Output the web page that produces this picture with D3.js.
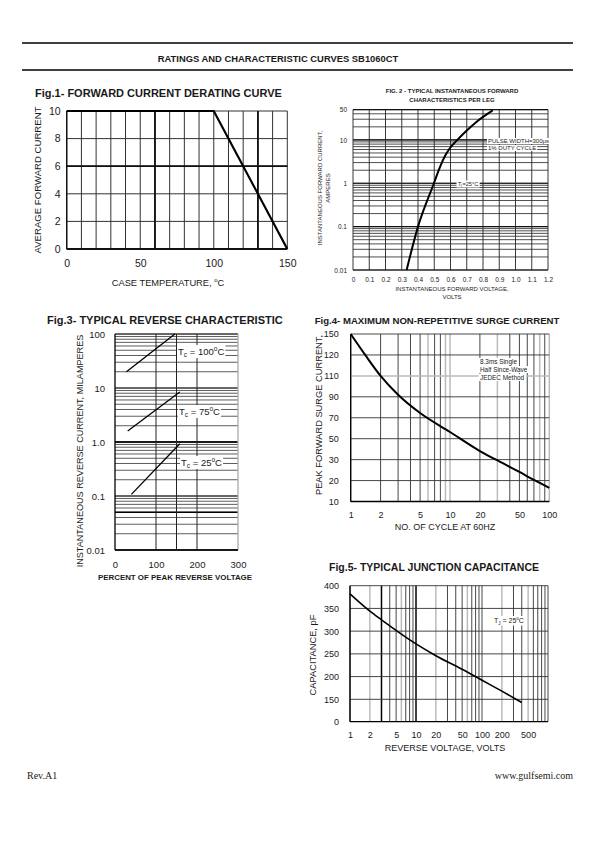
<!DOCTYPE html>
<html><head><meta charset="utf-8">
<script src="https://cdn.jsdelivr.net/npm/d3@7"></script>
<style>
body{margin:0;background:#fff}
svg text{font-family:"Liberation Sans",Arial,sans-serif;fill:#1a1a1a}
</style>
</head><body><script>
// ================= DATA =================
const headerTitle = "RATINGS AND CHARACTERISTIC CURVES SB1060CT";
const footerLeft = "Rev.A1";
const footerRight = "www.gulfsemi.com";

// Fig.1
const fig1Temp = [0, 100, 150];
const fig1Current = [10, 10, 0];
const fig1XTicks = [0, 50, 100, 150];
const fig1YTicks = [0, 2, 4, 6, 8, 10];
const fig1HeavyX = [60, 130];
const fig1HeavyY = [0, 6];

// Fig.2
const fig2Voltage = [0.33, 0.40, 0.498, 0.535, 0.566, 0.597, 0.638, 0.70, 0.761, 0.86];
const fig2Current = [0.01, 0.1, 1, 2.37, 4.24, 6.5, 9.6, 16.4, 26.3, 48];
const fig2XTicks = [0, 0.1, 0.2, 0.3, 0.4, 0.5, 0.6, 0.7, 0.8, 0.9, 1.0, 1.1, 1.2];
const fig2YTicks = [0.01, 0.1, 1, 10, 50];

// Fig.3
const fig3Series = [
  {label: "100", percent: [28, 146], current: [20, 100]},
  {label: "75",  percent: [31, 158], current: [1.6, 8.4]},
  {label: "25",  percent: [40, 158], current: [0.107, 0.93]}
];
const fig3XTicks = [0, 100, 200, 300];
const fig3YTicks = [0.01, 0.1, 1, 10, 100];
const fig3VGrid = [100, 150, 200];
const fig3HeavyY = [1, 0.05];

// Fig.4
const fig4Cycles = [1, 1.4, 2, 3, 5, 10, 20, 32, 50, 70, 100];
const fig4Current = [150, 120, 110, 92, 74.5, 56.4, 38.2, 28.9, 24.1, 20.3, 16.5];
const fig4XTicks = [1, 2, 5, 10, 20, 50, 100];
const fig4YTicks = [10, 20, 30, 50, 70, 90, 110, 120, 150];
const fig4LightX = [6, 9, 10, 30, 80, 100];
const fig4Note = ["8.3ms Single", "Half Since-Wave", "JEDEC Method"];

// Fig.5
const fig5Voltage = [1, 2, 3, 10, 20, 50, 100, 200, 400];
const fig5Cap = [382, 344, 325, 272, 246, 216, 192, 168, 129];
const fig5XTicks = [1, 2, 5, 10, 20, 50, 100, 200, 500];
const fig5YTicks = [0, 150, 200, 250, 300, 350, 400];
const fig5HeavyX = [3, 10];
const fig5LightX = [2, 6, 20, 60, 200, 500];

// ================= DRAW =================
const svg = d3.select("body").append("svg").attr("width", 595).attr("height", 842);
const F = '"Liberation Sans",Arial,sans-serif';

function hl(g, vals, y, x0, x1, stroke, w) {
  g.selectAll(null).data(vals).join("line")
    .attr("x1", x0).attr("x2", x1).attr("y1", d => y(d)).attr("y2", d => y(d))
    .attr("stroke", stroke).attr("stroke-width", w);
}
function vl(g, vals, x, y0, y1, stroke, w) {
  g.selectAll(null).data(vals).join("line")
    .attr("y1", y0).attr("y2", y1).attr("x1", d => x(d)).attr("x2", d => x(d))
    .attr("stroke", stroke).attr("stroke-width", w);
}
function styleAxis(g, size, weight) {
  g.select(".domain").remove();
  g.selectAll("line").remove();
  g.selectAll("text").attr("font-size", size).attr("font-family", F)
    .attr("fill", "#1a1a1a").attr("font-weight", weight || "normal");
}
function txt(x, y, s, size, opts = {}) {
  return svg.append("text").attr("x", x).attr("y", y).text(s)
    .attr("font-size", size).attr("text-anchor", opts.anchor || "middle")
    .attr("font-weight", opts.bold ? "bold" : "normal");
}
function rtxt(x, y, s, size) {
  return svg.append("text").attr("transform", `translate(${x},${y}) rotate(-90)`)
    .attr("text-anchor", "middle").attr("font-size", size).text(s);
}
function whiteBg(sel, pad) {
  const b = sel.node().getBBox();
  svg.insert("rect", () => sel.node())
    .attr("x", b.x - pad).attr("y", b.y).attr("width", b.width + 2 * pad).attr("height", b.height)
    .attr("fill", "#fff");
}

// ---- header / footer ----
svg.append("line").attr("x1", 22).attr("x2", 573).attr("y1", 43).attr("y2", 43).attr("stroke", "#000").attr("stroke-width", 1.3);
svg.append("line").attr("x1", 22).attr("x2", 573).attr("y1", 70).attr("y2", 70).attr("stroke", "#000").attr("stroke-width", 1.3);
txt(278, 61.5, headerTitle, 9.4, {bold: true});
txt(27, 779, footerLeft, 10, {anchor: "start"}).style("font-family", '"Liberation Serif",serif');
txt(573, 779, footerRight, 10, {anchor: "end"}).style("font-family", '"Liberation Serif",serif');

// ================= Fig.1 =================
{
  const x = d3.scaleLinear().domain([0, 150]).range([66.7, 287.3]);
  const y = d3.scaleLinear().domain([0, 10]).range([249, 111]);
  const g = svg.append("g");
  vl(g, d3.range(0, 151, 10), x, y(10), y(0), "#333", 1);
  hl(g, fig1YTicks, y, x(0), x(150), "#333", 1);
  vl(g, fig1HeavyX, x, y(10), y(0), "#111", 1.8);
  hl(g, fig1HeavyY, y, x(0), x(150), "#111", 1.8);
  vl(g, [0], x, y(10), y(0), "#111", 1.4);
  g.append("path").datum(fig1Temp.map((t, i) => [t, fig1Current[i]]))
    .attr("d", d3.line().x(d => x(d[0])).y(d => y(d[1])))
    .attr("fill", "none").attr("stroke", "#000").attr("stroke-width", 2.2);
  const ax = svg.append("g").attr("transform", `translate(0,${y(0) + 8})`)
    .call(d3.axisBottom(x).tickValues(fig1XTicks).tickSize(0).tickFormat(d3.format("d")));
  styleAxis(ax, 10.5);
  const ay = svg.append("g").attr("transform", `translate(${x(0) - 3},0)`)
    .call(d3.axisLeft(y).tickValues(fig1YTicks).tickSize(0).tickFormat(d3.format("d")));
  styleAxis(ay, 10.5);
  txt(35, 97, "Fig.1- FORWARD CURRENT DERATING CURVE", 11, {anchor: "start", bold: true});
  const xt = txt(168, 286, "CASE TEMPERATURE, ", 9.3);
  xt.append("tspan").text("o").attr("font-size", 6).attr("dy", -4);
  xt.append("tspan").text("C").attr("dy", 4);
  rtxt(41, 180, "AVERAGE FORWARD CURRENT", 9.6);
}

// ================= Fig.2 =================
{
  const x = d3.scaleLinear().domain([0, 1.2]).range([353, 548]);
  const y = d3.scaleLog().domain([0.01, 50]).range([270, 109.6]);
  const g = svg.append("g");
  hl(g, y.ticks(), y, x(0), x(1.2), "#222", 0.8);
  hl(g, [0.01, 0.1, 1, 10, 50], y, x(0), x(1.2), "#111", 1.1);
  vl(g, fig2XTicks, x, y(50), y(0.01), "#222", 0.9);
  g.append("path").datum(fig2Voltage.map((v, i) => [v, fig2Current[i]]))
    .attr("d", d3.line().x(d => x(d[0])).y(d => y(d[1])).curve(d3.curveMonotoneX))
    .attr("fill", "none").attr("stroke", "#000").attr("stroke-width", 2);
  const ax = svg.append("g").attr("transform", `translate(0,${y(0.01) + 4})`)
    .call(d3.axisBottom(x).tickValues(fig2XTicks).tickSize(0).tickFormat(d => d === 0 ? "0" : d3.format(".1f")(d)));
  styleAxis(ax, 6.5);
  const ay = svg.append("g").attr("transform", `translate(${x(0) - 3},0)`)
    .call(d3.axisLeft(y).tickValues(fig2YTicks).tickSize(0).tickFormat(d => String(d)));
  styleAxis(ay, 6.5);
  txt(452, 93, "FIG. 2 - TYPICAL INSTANTANEOUS FORWARD", 6, {bold: true});
  txt(452, 102, "CHARACTERISTICS PER LEG", 6, {bold: true});
  txt(452, 291, "INSTANTANEOUS FORWARD VOLTAGE,", 6);
  txt(452, 299, "VOLTS", 6);
  rtxt(322, 188, "INSTANTANEOUS FORWARD CURRENT,", 6);
  rtxt(330, 188, "AMPERES", 6);
  const n1 = txt(488, 143, "PULSE WIDTH=300\u03bcs", 6, {anchor: "start"}); whiteBg(n1, 1);
  const n2 = txt(488, 150, "1% DUTY CYCLE", 6, {anchor: "start"}); whiteBg(n2, 1);
  const n3 = txt(458, 185.5, "T\u2C7C=25\u00b0C", 5.6, {anchor: "start"}); whiteBg(n3, 1.5);
}

// ================= Fig.3 =================
{
  const x = d3.scaleLinear().domain([0, 300]).range([115, 238]);
  const y = d3.scaleLog().domain([0.01, 100]).range([550, 334]);
  const g = svg.append("g");
  hl(g, y.ticks(), y, x(0), x(300), "#333", 0.8);
  hl(g, fig3YTicks, y, x(0), x(300), "#222", 1);
  hl(g, fig3HeavyY, y, x(0), x(300), "#000", 1.6);
  vl(g, fig3VGrid, x, y(100), y(0.01), "#222", 1);
  vl(g, [0], x, y(100), y(0.01), "#000", 1.3);
  vl(g, [300], x, y(100), y(0.01), "#aaa", 1.3);
  hl(g, [0.01], y, x(0), x(300), "#000", 1.6);
  fig3Series.forEach(s => {
    g.append("path").datum(s.percent.map((p, i) => [p, s.current[i]]))
      .attr("d", d3.line().x(d => x(d[0])).y(d => y(d[1])))
      .attr("stroke", "#000").attr("stroke-width", 1.3).attr("fill", "none");
  });
  const ax = svg.append("g").attr("transform", `translate(0,${y(0.01) + 8})`)
    .call(d3.axisBottom(x).tickValues(fig3XTicks).tickSize(0).tickFormat(d3.format("d")));
  styleAxis(ax, 9.5);
  ax.selectAll("text").attr("fill", "#333");
  const ay = svg.append("g").attr("transform", `translate(${x(0) - 7},0)`)
    .call(d3.axisLeft(y).tickValues(fig3YTicks).tickSize(0).tickFormat(d => d === 1 ? "1.0" : String(d)));
  styleAxis(ay, 9.5);
  ay.selectAll("text").attr("fill", "#333");
  const labY = [355, 415, 466];
  const labX = [178, 179, 181];
  fig3Series.forEach((s, i) => {
    const t = txt(labX[i], labY[i], "T", 9.5, {anchor: "start"});
    t.append("tspan").text("c").attr("font-size", 6.5).attr("dy", 2);
    t.append("tspan").text(" = " + s.label).attr("dy", -2);
    t.append("tspan").text("o").attr("font-size", 6.5).attr("dy", -4);
    t.append("tspan").text("C").attr("dy", 4);
    whiteBg(t, 1);
  });
  txt(47, 324, "Fig.3- TYPICAL  REVERSE CHARACTERISTIC", 11, {anchor: "start", bold: true});
  txt(175, 580, "PERCENT OF PEAK REVERSE VOLTAGE", 7.9, {bold: true});
  rtxt(83, 451, "INSTANTANEOUS REVERSE CURRENT, MILAMPERES", 9.1);
}

// ================= Fig.4 =================
{
  const x = d3.scaleLog().domain([1, 100]).range([350.7, 549.3]);
  const y = d3.scaleLinear().domain(fig4YTicks)
    .range(fig4YTicks.map((d, i) => 501.5 - i * (501.5 - 334) / (fig4YTicks.length - 1)));
  const g = svg.append("g");
  const light = new Set(fig4LightX);
  vl(g, x.ticks().filter(d => !light.has(d)), x, y(150), y(10), "#333", 0.9);
  vl(g, fig4LightX, x, y(150), y(10), "#bbb", 1.5);
  hl(g, fig4YTicks.filter(d => d !== 110), y, x(1), x(100), "#333", 0.9);
  hl(g, [110], y, x(1), x(100), "#bbb", 1.5);
  vl(g, [1], x, y(150), y(10), "#000", 1.3);
  hl(g, [10], y, x(1), x(100), "#000", 1.3);
  g.append("path").datum(fig4Cycles.map((c, i) => [c, fig4Current[i]]))
    .attr("d", d3.line().x(d => x(d[0])).y(d => y(d[1])).curve(d3.curveMonotoneX))
    .attr("fill", "none").attr("stroke", "#000").attr("stroke-width", 2);
  const ax = svg.append("g").attr("transform", `translate(0,${y(10) + 7})`)
    .call(d3.axisBottom(x).tickValues(fig4XTicks).tickSize(0).tickFormat(d3.format("d")));
  styleAxis(ax, 9);
  const ay = svg.append("g").attr("transform", `translate(${x(1) - 9},0)`)
    .call(d3.axisLeft(y).tickValues(fig4YTicks).tickSize(0).tickFormat(d3.format("d")));
  styleAxis(ay, 9);
  fig4Note.forEach((s, i) => {
    const t = txt(480, 364 + i * 8, s, 6.4, {anchor: "start"});
    whiteBg(t, 1.5);
  });
  txt(437, 324, "Fig.4- MAXIMUM NON-REPETITIVE SURGE CURRENT", 9.6, {bold: true});
  txt(445, 530, "NO. OF CYCLE AT 60HZ", 9);
  rtxt(322, 415, "PEAK FORWARD SURGE CURRENT,", 9.3);
}

// ================= Fig.5 =================
{
  const x = d3.scaleLog().domain([1, 1000]).range([350, 548]);
  const y = d3.scaleLinear().domain([0, 150, 400]).range([721.7, 699.3, 585.7]);
  const g = svg.append("g");
  const special = new Set([...fig5HeavyX, ...fig5LightX]);
  vl(g, x.ticks().filter(d => !special.has(d)), x, y(400), y(0), "#333", 0.9);
  vl(g, fig5LightX, x, y(400), y(0), "#bbb", 1.5);
  vl(g, fig5HeavyX, x, y(400), y(0), "#000", 1.5);
  hl(g, fig5YTicks.filter(d => d > 0), y, x(1), x(1000), "#333", 0.9);
  vl(g, [1], x, y(400), y(0), "#000", 1.3);
  hl(g, [0], y, x(1), x(1000), "#000", 1.3);
  g.append("path").datum(fig5Voltage.map((v, i) => [v, fig5Cap[i]]))
    .attr("d", d3.line().x(d => x(d[0])).y(d => y(d[1])).curve(d3.curveMonotoneX))
    .attr("fill", "none").attr("stroke", "#000").attr("stroke-width", 1.6);
  const ax = svg.append("g").attr("transform", `translate(0,${y(0) + 7})`)
    .call(d3.axisBottom(x).tickValues(fig5XTicks).tickSize(0).tickFormat(d3.format("d")));
  styleAxis(ax, 9);
  const ay = svg.append("g").attr("transform", `translate(${x(1) - 8},0)`)
    .call(d3.axisLeft(y).tickValues(fig5YTicks).tickSize(0).tickFormat(d3.format("d")));
  styleAxis(ay, 9);
  const t = txt(494, 623, "T", 7, {anchor: "start"});
  t.append("tspan").text("J").attr("font-size", 4.5).attr("dy", 1.5);
  t.append("tspan").text(" = 25").attr("dy", -1.5);
  t.append("tspan").text("o").attr("font-size", 4.5).attr("dy", -3);
  t.append("tspan").text("C").attr("dy", 3);
  whiteBg(t, 1.5);
  txt(434, 571, "Fig.5- TYPICAL JUNCTION CAPACITANCE", 10.5, {bold: true});
  txt(445, 751, "REVERSE VOLTAGE, VOLTS", 9);
  rtxt(316, 655, "CAPACITANCE, pF", 9.3);
}
</script></body></html>
